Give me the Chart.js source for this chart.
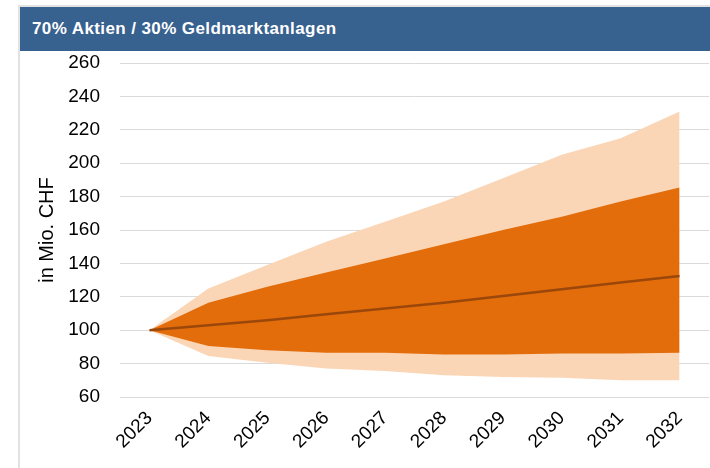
<!DOCTYPE html>
<html>
<head>
<meta charset="utf-8">
<script src="https://cdn.jsdelivr.net/npm/chart.js@4"></script>
<style>
  body { margin: 0; background: #fff; font-family: "Liberation Sans", Arial, sans-serif; }
  #frame { position: absolute; left: 18px; top: 5px; width: 692px; height: 463px;
           border-left: 2px solid #e2e2e2; border-top: 2px solid #e2e2e2; }
  #head { position: absolute; left: 20px; top: 7px; width: 690px; height: 44px; background: #37618f;
          color: #fff; font-weight: bold; font-size: 17px; letter-spacing: 0.4px;
          line-height: 44px; padding-left: 12px; box-sizing: border-box; }
  #wrap { position: absolute; left: 20px; top: 51px; width: 690px; height: 417px; }
</style>
</head>
<body>
<div id="frame"></div>
<div id="head">70% Aktien / 30% Geldmarktanlagen</div>
<div id="wrap"><canvas id="myChart"></canvas></div>
<script>
const years = ['2023', '2024', '2025', '2026', '2027', '2028', '2029', '2030', '2031', '2032'];
const lightUpper = [100, 125, 139, 153, 165, 177, 191, 205, 215, 231];
const darkUpper  = [100, 116.5, 126, 134.5, 143, 151.5, 160, 168, 177, 185.5];
const median     = [100, 103, 106, 109.5, 113, 116.5, 120.5, 124.5, 128.5, 132.5];
const darkLower  = [100, 90.5, 88, 86.5, 86.5, 85.5, 85.5, 86, 86, 86.5];
const lightLower = [100, 84.5, 80.5, 77, 75.5, 73, 72, 71.5, 70, 70];

const light = '#fad6b6';
const dark = '#e36c0b';
const font = { family: 'Liberation Sans', size: 19 };

const ctx = document.getElementById('myChart');

new Chart(ctx, {
  type: 'line',
  data: {
    labels: years,
    datasets: [
      { data: lightUpper, fill: '+1', backgroundColor: light, borderWidth: 0, pointRadius: 0, order: 2 },
      { data: lightLower, fill: false, borderWidth: 0, pointRadius: 0, order: 2 },
      { data: darkUpper, fill: '+1', backgroundColor: dark, borderWidth: 0, pointRadius: 0, order: 1 },
      { data: darkLower, fill: false, borderWidth: 0, pointRadius: 0, order: 1 },
      { data: median, fill: false, borderColor: '#9a470c', borderWidth: 2.5, pointRadius: 0, order: 0 }
    ]
  },
  options: {
    responsive: true,
    maintainAspectRatio: false,
    animation: false,
    layout: { padding: { top: 12, right: 1, left: 0, bottom: 0 }, autoPadding: false },
    plugins: { legend: { display: false }, tooltip: { enabled: false } },
    scales: {
      x: {
        offset: true,
        grid: { display: false },
        border: { display: false },
        ticks: { color: '#000', font: font, minRotation: 45, maxRotation: 45, padding: 2 },
        afterFit: (s) => { s.height = 71; }
      },
      y: {
        min: 60,
        max: 260,
        grid: { color: '#dadada', lineWidth: 1, drawTicks: false },
        border: { display: false },
        ticks: { color: '#000', font: font, stepSize: 20, padding: 20 },
        title: { display: true, text: 'in Mio. CHF', color: '#000', font: { family: 'Liberation Sans', size: 20 }, padding: { top: 15 } },
        afterFit: (s) => { s.width = 100; s.paddingTop = 0; s.paddingBottom = 0; }
      }
    }
  }
});
</script>
</body>
</html>
